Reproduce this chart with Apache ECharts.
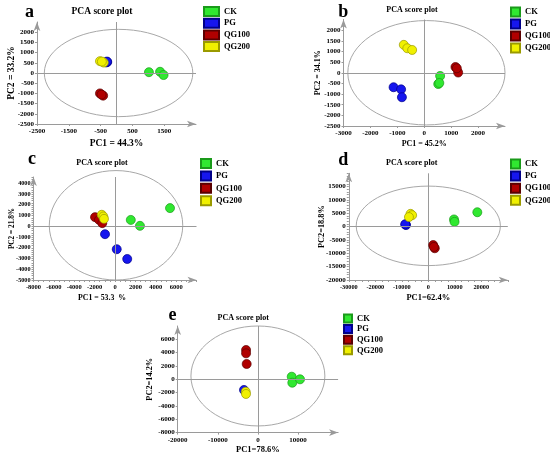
<!DOCTYPE html>
<html><head><meta charset="utf-8">
<script src="https://cdn.jsdelivr.net/npm/echarts@6/dist/echarts.min.js"></script>
<style>html,body{margin:0;padding:0;background:#fff}#c{width:550px;height:459px}</style>
</head><body><div id="c"></div>
<script>
// ---------- data ----------
const groups = ['CK', 'PG', 'QG100', 'QG200'];
const panelLetters = ['a', 'b', 'c', 'd', 'e'];
const panelTitle = 'PCA score plot';
const xNames = ['PC1 = 44.3%', 'PC1 = 45.2%', 'PC1 = 53.3  %', 'PC1=62.4%', 'PC1=78.6%'];
const yNames = ['PC2 = 33.2%', 'PC2 = 34.1%', 'PC2 = 21.8%', 'PC2=18.8%', 'PC2=14.2%'];

// panel a
const aCK = [[1020, 40], [1370, 60], [1480, -100]];
const aPG = [[-290, 540], [-320, 520], [-300, 560]];
const aQG100 = [[-520, -1000], [-420, -1110], [-470, -1060]];
const aQG200 = [[-520, 580], [-400, 510], [-460, 560]];
// panel b
const bCK = [[590, -150], [520, -530], [560, -480]];
const bPG = [[-1140, -680], [-860, -780], [-830, -1150]];
const bQG100 = [[1160, 270], [1260, 10], [1210, 210]];
const bQG200 = [[-760, 1310], [-630, 1150], [-450, 1070]];
// panel c
const cCK = [[5400, 1700], [1550, 600], [2450, 50]];
const cPG = [[-980, -730], [170, -2130], [1200, -3040]];
const cQG100 = [[-1960, 860], [-1570, 610], [-1250, 300]];
const cQG200 = [[-1300, 1080], [-1150, 920], [-1080, 700]];
// panel d
const dCK = [[18500, 5400], [9700, 2700], [9900, 1800]];
const dPG = [[-8600, 800], [-8400, 600], [-8700, 900]];
const dQG100 = [[1850, -6900], [2450, -8100], [2100, -7600]];
const dQG200 = [[-6700, 4800], [-6100, 4300], [-7300, 3600]];
// panel e
const eCK = [[8430, 390], [8580, -510], [10500, 0]];
const ePG = [[-3470, -1600]];
const eQG100 = [[-2950, 4400], [-2950, 3900], [-2800, 2300]];
const eQG200 = [[-3040, -1860], [-2970, -2200]];

const panelScores = [
  [aCK, aPG, aQG100, aQG200],
  [bCK, bPG, bQG100, bQG200],
  [cCK, cPG, cQG100, cQG200],
  [dCK, dPG, dQG100, dQG200],
  [eCK, ePG, eQG100, eQG200]
];

// axis extents and tick labels
const xExtents = [[-2500, 2500], [-3000, 3000], [-8000, 8000], [-30000, 30000], [-20000, 20000]];
const yExtents = [[-2500, 2500], [-2500, 2500], [-5000, 4600], [-20000, 20000], [-8000, 8000]];
const aXTicks = [-2500, -1500, -500, 500, 1500];
const aYTicks = [-2500, -2000, -1500, -1000, -500, 0, 500, 1000, 1500, 2000];
const bXTicks = [-3000, -2000, -1000, 0, 1000, 2000];
const bYTicks = [-2500, -2000, -1500, -1000, -500, 0, 500, 1000, 1500, 2000];
const cXTicks = [-8000, -6000, -4000, -2000, 0, 2000, 4000, 6000];
const cYTicks = [-5000, -4000, -3000, -2000, -1000, 0, 1000, 2000, 3000, 4000];
const dXTicks = [-30000, -20000, -10000, 0, 10000, 20000];
const dYTicks = [-20000, -15000, -10000, -5000, 0, 5000, 10000, 15000];
const eXTicks = [-20000, -10000, 0, 10000];
const eYTicks = [-8000, -6000, -4000, -2000, 0, 2000, 4000, 6000];
const xTicks = [aXTicks, bXTicks, cXTicks, dXTicks, eXTicks];
const yTicks = [aYTicks, bYTicks, cYTicks, dYTicks, eYTicks];
// minor tick spacing per panel (0 = major ticks only)
const xMinorStep = [0, 0, 500, 2500, 0];
const yMinorStep = [0, 0, 200, 1000, 0];

// confidence ellipses: centre x, centre y, radius x, radius y (data units)
const ellipses = [
  [65, 0, 2335, 2140],
  [80, 0, 2920, 2450],
  [100, 100, 6550, 5100],
  [0, 300, 27200, 14900],
  [0, 500, 16700, 7500]
];

// ---------- style / layout ----------
const FONT = '"Liberation Serif", "Times New Roman", serif';
const colors = ['#30e830', '#1616ee', '#b00000', '#f0f000'];
const borders = ['#1a9a1a', '#000088', '#5a0000', '#9a9a00'];
const layout = [
  {grid: {left: 37, top: 22, width: 159, height: 102}, xGap: 15, yGap: 20, xNameSize: 9.5, yNameSize: 9.5,
   xTickSize: 7, yTickSize: 7, title: [102, 12, 9.5], letter: [29.5, 12.2],
   lg: {left: 203, top: 6, w: 15, h: 9, gap: 0.7}, xShift: 0},
  {grid: {left: 343.5, top: 19.5, width: 161.5, height: 106.5}, xGap: 13.5, yGap: 22, xNameSize: 8, yNameSize: 8,
   xTickSize: 7, yTickSize: 7, title: [412, 10, 8], letter: [343.3, 12.2],
   lg: {left: 510, top: 6.5, w: 9, h: 9, gap: 1}, xShift: 0},
  {grid: {left: 33.5, top: 177, width: 163, height: 103}, xGap: 14, yGap: 18, xNameSize: 7.8, yNameSize: 7.3,
   xTickSize: 6.5, yTickSize: 6.2, title: [102, 163, 8], letter: [32, 158.9],
   lg: {left: 200, top: 158, w: 10, h: 9, gap: 1.4}, xShift: 13},
  {grid: {left: 348.8, top: 173.3, width: 159, height: 106.7}, xGap: 13, yGap: 23, xNameSize: 8.5, yNameSize: 8.3,
   xTickSize: 6.3, yTickSize: 7, title: [411.7, 163.3, 8], letter: [343.3, 160.6],
   lg: {left: 510, top: 158.5, w: 9, h: 9, gap: 1.1}, xShift: 0},
  {grid: {left: 177.7, top: 326, width: 160.4, height: 106.6}, xGap: 13, yGap: 23.5, xNameSize: 8.5, yNameSize: 8.3,
   xTickSize: 7, yTickSize: 7, title: [243.3, 317.7, 8], letter: [172.5, 314.9],
   lg: {left: 343, top: 313.5, w: 8, h: 8, gap: 0.6}, xShift: 0}
];

const axisLineStyle = {color: '#9a9a9a', width: 1};
const plain = v => String(v);
// tick-mark positions (axis decoration only)
function tickMarks(extent, labels, step) {
  if (!step) return labels;
  const out = [];
  for (let v = labels[0]; v <= extent[1]; v += step) out.push(v);
  return out;
}

const grid = [], xAxis = [], yAxis = [], series = [], legend = [], graphic = [];
layout.forEach((L, i) => {
  grid.push(Object.assign({containLabel: false}, L.grid));
  xAxis.push({
    type: 'value', gridIndex: i, min: xExtents[i][0], max: xExtents[i][1],
    name: xNames[i], nameLocation: 'middle', nameGap: L.xGap, nameMoveOverlap: false,
    nameTextStyle: {fontFamily: FONT, fontWeight: 'bold', fontSize: L.xNameSize, color: '#000',
                    padding: [0, L.xShift * 2, 0, 0]},
    axisLine: {show: true, onZero: false, lineStyle: axisLineStyle, symbol: ['none', 'arrow'], symbolSize: [5, 9]},
    axisTick: {show: true, length: 2, inside: false,
               customValues: tickMarks(xExtents[i], xTicks[i], xMinorStep[i]), lineStyle: axisLineStyle},
    axisLabel: {customValues: xTicks[i], formatter: plain, margin: 4, fontFamily: FONT, fontWeight: 'bold',
                fontSize: L.xTickSize, color: '#000'},
    splitLine: {show: false}
  });
  yAxis.push({
    type: 'value', gridIndex: i, min: yExtents[i][0], max: yExtents[i][1],
    name: yNames[i], nameLocation: 'middle', nameGap: L.yGap, nameMoveOverlap: false,
    nameTextStyle: {fontFamily: FONT, fontWeight: 'bold', fontSize: L.yNameSize, color: '#000'},
    axisLine: {show: true, onZero: false, lineStyle: axisLineStyle, symbol: ['none', 'arrow'], symbolSize: [5, 9]},
    axisTick: {show: true, length: 2, inside: false,
               customValues: tickMarks(yExtents[i], yTicks[i], yMinorStep[i]), lineStyle: axisLineStyle},
    axisLabel: {customValues: yTicks[i], formatter: plain, margin: 3, fontFamily: FONT, fontWeight: 'bold',
                fontSize: L.yTickSize, color: '#000'},
    splitLine: {show: false}
  });
  series.push({
    type: 'custom', xAxisIndex: i, yAxisIndex: i, silent: true, clip: false, z: 1,
    data: [ellipses[i]],
    renderItem: (params, api) => {
      const c = api.coord([api.value(0), api.value(1)]);
      const s = api.size([api.value(2), api.value(3)]);
      return {type: 'ellipse', shape: {cx: c[0], cy: c[1], rx: s[0], ry: s[1]},
              style: {fill: 'none', stroke: '#a8a8a8', lineWidth: 1}};
    },
    markLine: {
      silent: true, symbol: 'none', label: {show: false}, animation: false,
      lineStyle: {color: '#9a9a9a', width: 1, type: 'solid'},
      data: [{xAxis: 0}, {yAxis: 0}]
    }
  });
  groups.forEach((g, k) => {
    series.push({
      type: 'scatter', name: g, xAxisIndex: i, yAxisIndex: i, z: 3 + k,
      data: panelScores[i][k], symbol: 'circle', symbolSize: 9,
      itemStyle: {color: colors[k], borderColor: borders[k], borderWidth: 0.7, opacity: 1},
      emphasis: {disabled: true}
    });
  });
  legend.push({
    data: groups, orient: 'vertical', left: L.lg.left, top: L.lg.top, padding: 0,
    itemWidth: L.lg.w, itemHeight: L.lg.h, itemGap: L.lg.gap, icon: 'rect', selectedMode: false,
    textStyle: {fontFamily: FONT, fontWeight: 'bold', fontSize: 8.5, color: '#000', lineHeight: 10,
                width: 40, overflow: 'none'}
  });
  graphic.push({
    type: 'text', x: L.title[0], y: L.title[1], silent: true,
    style: {text: panelTitle, font: `bold ${L.title[2]}px ${FONT}`, fill: '#000',
            align: 'center', verticalAlign: 'middle', textAlign: 'center', textVerticalAlign: 'middle'}
  });
  graphic.push({
    type: 'text', x: L.letter[0], y: L.letter[1], silent: true,
    style: {text: panelLetters[i], font: `bold 18px ${FONT}`, fill: '#000',
            align: 'center', verticalAlign: 'middle', textAlign: 'center', textVerticalAlign: 'middle'}
  });
});

const chart = echarts.init(document.getElementById('c'));
chart.setOption({
  animation: false, backgroundColor: '#fff',
  grid, xAxis, yAxis, series, legend, graphic
});
</script></body></html>
